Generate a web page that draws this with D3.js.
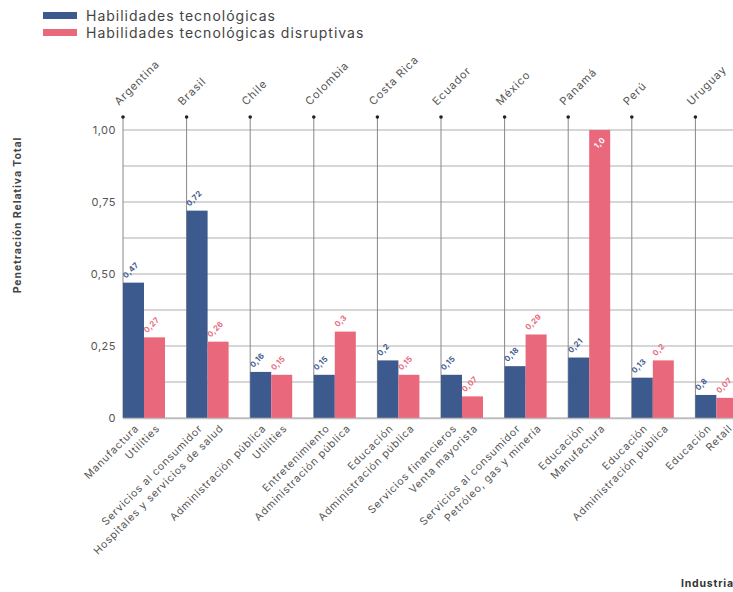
<!DOCTYPE html>
<html><head><meta charset="utf-8">
<script src="https://cdn.jsdelivr.net/npm/d3@7"></script>
<style>body{margin:0;background:#fff}svg{display:block;font-family:Inter,"Open Sans",sans-serif}</style>
</head><body><svg id="c" width="733" height="592"></svg>
<script>
const countries = ["Argentina","Brasil","Chile","Colombia","Costa Rica","Ecuador","México","Panamá","Perú","Uruguay"];
const industriesTech = ["Manufactura","Servicios al consumidor","Administración pública","Entretenimiento","Educación","Servicios financieros","Servicios al consumidor","Educación","Educación","Educación"];
const industriesDisr = ["Utilities","Hospitales y servicios de salud","Utilities","Administración pública","Administración pública","Venta mayorista","Petróleo, gas y minería","Manufactura","Administración pública","Retail"];
const techValues = [0.47,0.72,0.16,0.15,0.20,0.15,0.18,0.21,0.14,0.08];
const disrValues = [0.28,0.265,0.15,0.30,0.15,0.075,0.29,1.0,0.20,0.07];
const techLabels = ["0,47","0,72","0,16","0,15","0,2","0,15","0,18","0,21","0,13","0,8"];
const disrLabels = ["0,27","0,26","0,15","0,3","0,15","0,07","0,29","1,0","0,2","0,07"];
const yTicks = [0,0.25,0.5,0.75,1];
const yTickLabels = ["0","0,25","0,50","0,75","1,00"];
const gridValues = [0,0.125,0.25,0.375,0.5,0.625,0.75,0.875,1];
const seriesNames = ["Habilidades tecnológicas","Habilidades tecnológicas disruptivas"];
const colors = ["#3d5a8e","#e9687b"];

const svg = d3.select("#c");
const x = d3.scaleBand().domain(countries).range([123, 123 + 63.6*countries.length]).padding(0);
const xs = d3.scaleBand().domain([0,1]).range([0, 42]);
const y = d3.scaleLinear().domain([0,1]).range([418,130]);
const topY = 117;

// horizontal gridlines
svg.append("g").selectAll("line").data(gridValues).join("line")
  .attr("x1",123).attr("x2",760).attr("y1",d=>y(d)).attr("y2",d=>y(d))
  .attr("stroke","#c8c8c8").attr("stroke-width",1.6);

// vertical country lines + dots
const cg = svg.append("g");
cg.selectAll("line").data(countries).join("line")
  .attr("x1",d=>x(d)).attr("x2",d=>x(d)).attr("y1",topY).attr("y2",y(0))
  .attr("stroke","#888").attr("stroke-width",1);
cg.selectAll("circle").data(countries).join("circle")
  .attr("cx",d=>x(d)).attr("cy",topY).attr("r",1.8).attr("fill","#222");
cg.selectAll("text").data(countries).join("text")
  .attr("transform",d=>`translate(${x(d)-4},${topY-11}) rotate(-45)`)
  .attr("font-size",11).attr("letter-spacing","0.9px").attr("fill","#555").text(d=>d);

// bars
const rows = countries.map((c,i)=>({c,i}));
const series = [techValues, disrValues];
const labels = [techLabels, disrLabels];
series.forEach((vals,s)=>{
  const g = svg.append("g");
  g.selectAll("rect").data(rows).join("rect")
    .attr("x",d=>x(d.c)+xs(s)).attr("width",xs.bandwidth())
    .attr("y",d=>y(vals[d.i])).attr("height",d=>y(0)-y(vals[d.i]))
    .attr("fill",colors[s]);
  g.selectAll("text").data(rows).join("text")
    .attr("transform",d=>{
      const inside = vals[d.i] >= 0.95;
      const tx = x(d.c)+xs(s)+ (inside? 8 : 3);
      const ty = inside ? y(vals[d.i])+19 : y(vals[d.i])-4;
      return `translate(${tx},${ty}) rotate(-45)`;
    })
    .attr("font-size",7.8).attr("font-weight",700).attr("letter-spacing","0.3px")
    .attr("fill",d=> vals[d.i] >= 0.95 ? "#fff" : colors[s])
    .text(d=>labels[s][d.i]);
});

// baseline
svg.append("line").attr("x1",123).attr("x2",760).attr("y1",y(0)+0.5).attr("y2",y(0)+0.5)
  .attr("stroke","#bdbdbd").attr("stroke-width",1.5);

// y tick labels
svg.append("g").selectAll("text").data(yTicks).join("text")
  .attr("x",116).attr("y",d=>y(d)+4).attr("text-anchor","end")
  .attr("font-size",11).attr("letter-spacing","0.5px").attr("fill","#555").text((d,i)=>yTickLabels[i]);

// bottom industry labels
[industriesTech, industriesDisr].forEach((arr,s)=>{
  svg.append("g").selectAll("text").data(rows).join("text")
    .attr("transform",d=>`translate(${x(d.c)+xs(s)+xs.bandwidth()/2+6},${y(0)+11}) rotate(-45)`)
    .attr("text-anchor","end").attr("font-size",10.5).attr("letter-spacing","0.8px").attr("fill","#555")
    .text(d=>arr[d.i]);
});

// axis titles
svg.append("text").attr("transform","translate(21,215) rotate(-90)")
  .attr("text-anchor","middle").attr("font-size",10.5).attr("font-weight",700).attr("letter-spacing","0.9px").attr("fill","#444")
  .text("Penetración Relativa Total");
svg.append("text").attr("x",681).attr("y",587).attr("font-size",10.5).attr("font-weight",700).attr("letter-spacing","0.8px").attr("fill","#333")
  .text("Industria");

// legend
const lg = svg.append("g");
seriesNames.forEach((n,i)=>{
  lg.append("rect").attr("x",43).attr("y",12+i*17).attr("width",34).attr("height",7).attr("fill",colors[i]);
  lg.append("text").attr("x",86).attr("y",21+i*17).attr("font-size",14).attr("letter-spacing","1px").attr("fill","#444").text(n);
});
</script></body></html>
